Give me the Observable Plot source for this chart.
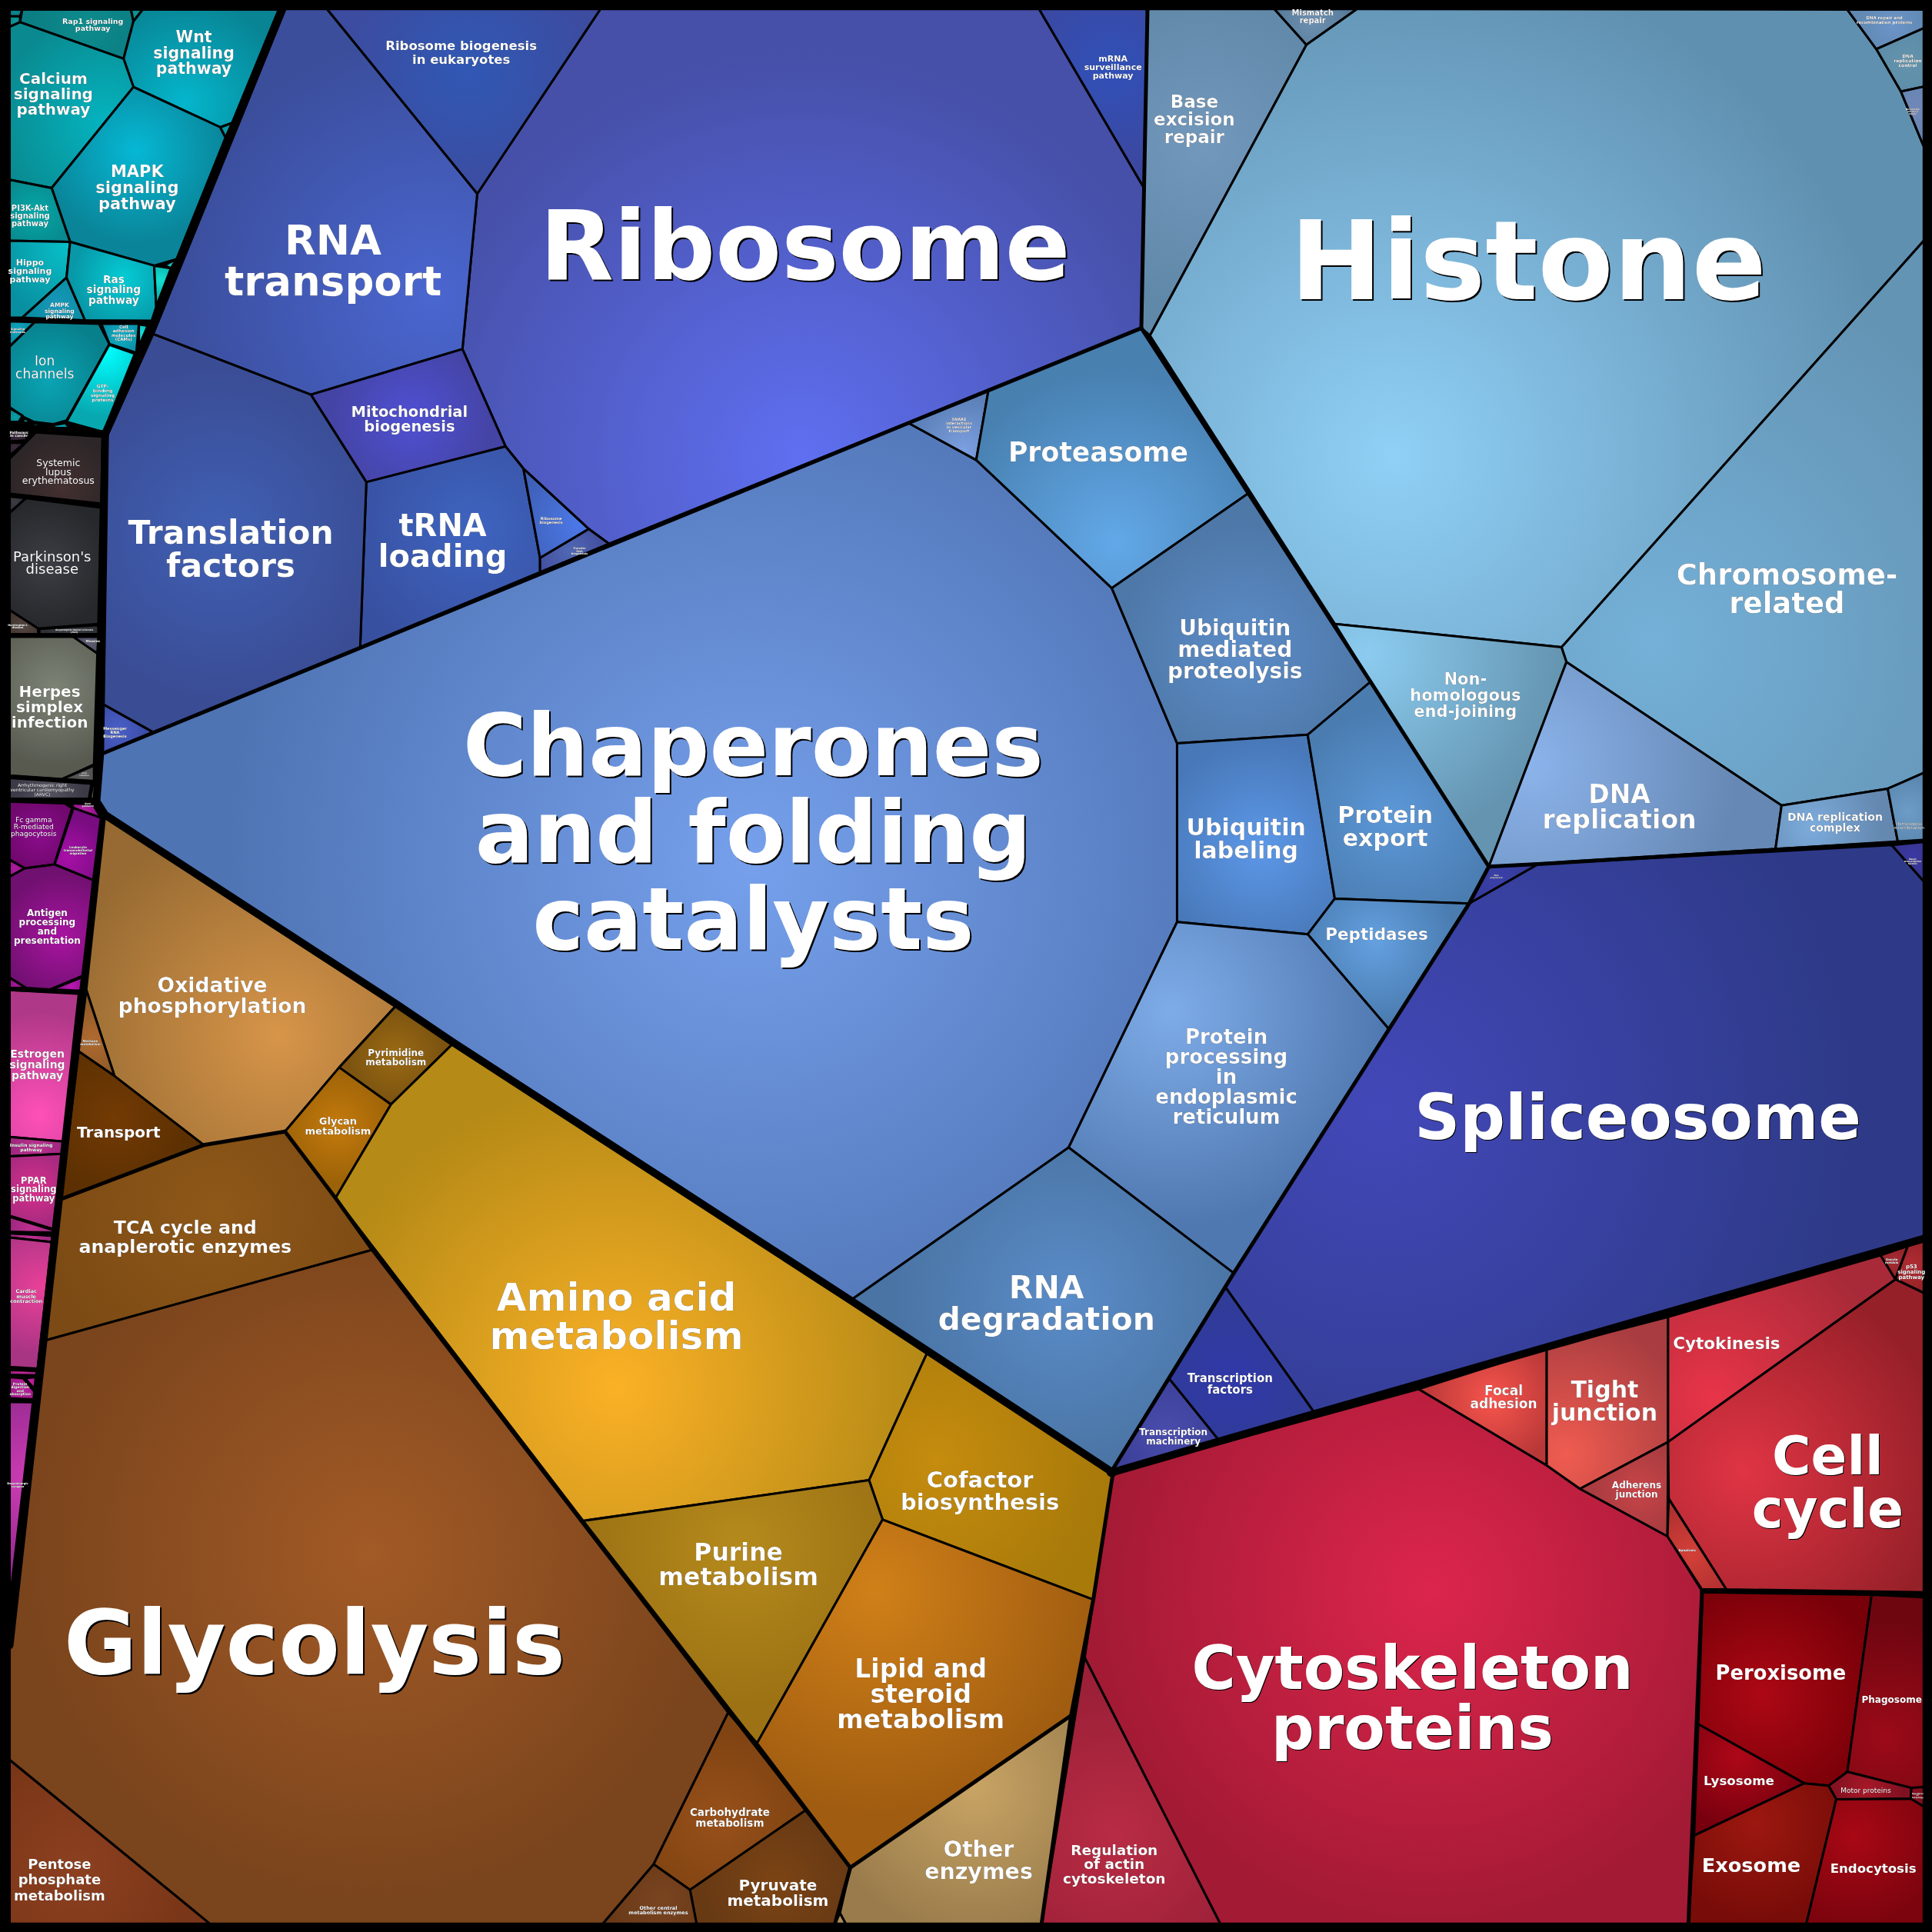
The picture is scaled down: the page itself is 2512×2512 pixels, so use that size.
<!DOCTYPE html>
<html><head><meta charset="utf-8">
<script src="https://cdn.jsdelivr.net/npm/d3@7"></script>
<script src="https://cdn.jsdelivr.net/npm/@observablehq/plot@0.6"></script>
<style>html,body{margin:0;padding:0;background:#000}svg{display:block}</style>
</head><body><div id="chart"></div>
<script>
// Every polygon is [name, vertices] in a 1568-unit square.
const translationCells = [
["Ribosome",[[487,7],[843,7],[928,152],[926,266],[494,441],[477.5,429],[424.5,380],[410,362],[375,283],[387,157]]],
["Ribosome biogenesis in eukaryotes",[[265,7],[487,7],[387,157]]],
["mRNA surveillance pathway",[[843,7],[931,7],[928,152]]],
["RNA transport",[[229,7],[265,7],[387,157],[375,283],[252,320],[122,270]]],
["Mitochondrial biogenesis",[[252,320],[375,283],[410,362],[297,391]]],
["tRNA loading",[[297,391],[410,362],[424.5,380],[438,452.5],[438,464],[292,525]]],
["Ribosome biogenesis",[[424.5,380],[477.5,429],[438,452.5]]],
["Transfer RNA biogenesis",[[438,452.5],[477.5,429],[494,441],[438,464]]],
["Translation factors",[[122,270],[252,320],[297,391],[292,525],[124,594],[81,570],[85,352]]],
["Messenger RNA Biogenesis",[[81,570],[124,594],[81,612]]],
];
const foldingCells = [
["Chaperones and folding catalysts",[[81,612],[737,343],[792,373],[902,477],[955,603],[955,748],[867,931],[690,1055],[368,846],[322,815],[85,661],[78,650]]],
["SNARE interactions in vesicular transport",[[737,343],[802,316],[792,373]]],
["Proteasome",[[802,316],[926,266],[1013,400],[902,477],[792,373]]],
["Ubiquitin mediated proteolysis",[[902,477],[1013,400],[1112,553],[1061,596],[955,603]]],
["Ubiquitin labeling",[[955,603],[1061,596],[1083,729],[1061,758],[955,748]]],
["Protein export",[[1061,596],[1112,553],[1208,703],[1192,733],[1083,729]]],
["Peptidases",[[1061,758],[1083,729],[1192,733],[1127,835]]],
["Protein processing in endoplasmic reticulum",[[955,748],[1061,758],[1127,835],[1001,1033],[867,931]]],
["RNA degradation",[[867,931],[1001,1033],[901,1195],[690,1055]]],
];
const chromatinCells = [
["Base excision repair",[[931,7],[1034,7],[1060,36],[933,272],[926,266]]],
["Mismatch repair",[[1034,7],[1101,7],[1060,36]]],
["Histone",[[1101,7],[1499,7.5],[1522.5,39.5],[1542.5,74],[1561,118.6],[1561,195],[1267,525],[1083,506],[933,272],[1060,36]]],
["DNA repair and recombination proteins",[[1499,7.5],[1561,7.5],[1561,22.5],[1522.5,39.5]]],
["DNA replication control",[[1522.5,39.5],[1561,22.5],[1561,70],[1542.5,74]]],
["Nucleotide excision repair",[[1542.5,74],[1561,70],[1561,118.6]]],
["Chromosome-related",[[1561,195],[1561,627],[1531.8,639.8],[1445.6,653.4],[1271,537],[1267,525]]],
["Non-homologous end-joining",[[1083,506],[1267,525],[1271,537],[1208,703],[1112,553]]],
["DNA replication",[[1271,537],[1445.6,653.4],[1440.7,688.7],[1208,703]]],
["DNA replication complex",[[1445.6,653.4],[1531.8,639.8],[1540,683],[1440.7,688.7]]],
["Homologous recombination",[[1531.8,639.8],[1561,627],[1561,682],[1540,683]]],
];
const transcriptionCells = [
["Spliceosome",[[1248,701],[1535,685.6],[1561,715],[1561,1005],[1067,1147],[994,1044],[1127,835],[1192,733]]],
["RNA polymerase",[[1192,733],[1208,703],[1248,701]]],
["Basal transcription factors",[[1535,685.6],[1561,683],[1561,715]]],
["Transcription factors",[[994,1044],[1067,1147],[990,1170],[948,1118]]],
["Transcription machinery",[[948,1118],[990,1170],[901,1195]]],
];
const cellularCells = [
["Cytoskeleton proteins",[[1151,1127],[1255,1189],[1282,1208],[1353,1246.5],[1381,1291],[1370,1561],[990,1561],[880,1345],[903,1195]]],
["Regulation of actin cytoskeleton",[[880,1345],[990,1561],[845,1561]]],
["Focal adhesion",[[1151,1127],[1255,1094],[1255,1189]]],
["Tight junction",[[1255,1094],[1353.5,1068.5],[1353.5,1170],[1282,1208],[1255,1189]]],
["Adherens junction",[[1282,1208],[1353.5,1170],[1353,1246.5]]],
["Cytokinesis",[[1353.5,1068.5],[1526,1018.5],[1538,1038],[1353.5,1170]]],
["Oocyte meiosis",[[1526,1018.5],[1548,1011],[1538,1038]]],
["p53 signaling pathway",[[1548,1011],[1561,1007],[1561,1049],[1538,1038]]],
["Cell cycle",[[1538,1038],[1561,1049],[1561,1292],[1400.7,1289.6],[1354,1216],[1353.5,1170]]],
["Apoptosis",[[1354,1216],[1400.7,1289.6],[1381,1289.6],[1353,1246.5]]],
["Peroxisome",[[1381.5,1292],[1518.7,1294],[1499,1437.7],[1483.7,1449],[1464,1447],[1378,1399]]],
["Phagosome",[[1518.7,1294],[1561,1296],[1561,1450.7],[1551,1450.7],[1499,1437.7]]],
["Motor proteins",[[1483.7,1449],[1499,1437.7],[1551,1450.7],[1550.5,1459.6],[1490,1460]]],
["Regulation of autophagy",[[1551,1450.7],[1561,1450],[1561,1466],[1550.5,1459.6]]],
["Lysosome",[[1378,1399],[1464,1447],[1374.6,1489.4]]],
["Exosome",[[1374.6,1489.4],[1464,1447],[1483.7,1449],[1490,1460],[1465.7,1561],[1370,1561]]],
["Endocytosis",[[1490,1460],[1550.5,1459.6],[1561,1466],[1561,1561],[1465.7,1561]]],
];
const metabolismCells = [
["Oxidative phosphorylation",[[85,661],[322,815],[275,866],[231,918],[165,929],[92.6,873],[69.7,803]]],
["Methane metabolism",[[69.7,803],[92.6,873],[63.5,853]]],
["Transport",[[63.5,853],[92.6,873],[165,929],[49,973]]],
["TCA cycle and anaplerotic enzymes",[[49,973],[165,929],[231,918],[272,972],[302,1014],[35,1088]]],
["Glycolysis",[[35,1088],[302,1014],[591,1389],[530.2,1512.7],[489,1561],[170,1561],[7.5,1428],[7.5,1330]]],
["Pentose phosphate metabolism",[[7.5,1428],[170,1561],[7.5,1561]]],
["Carbohydrate metabolism",[[591,1389],[653.3,1469],[559.7,1533.5],[530.2,1512.7]]],
["Pyruvate metabolism",[[559.7,1533.5],[653.3,1469],[689.8,1515.4],[677.3,1561],[565,1561]]],
["Other central metabolism enzymes",[[530.2,1512.7],[559.7,1533.5],[565,1561],[489,1561]]],
["Pyrimidine metabolism",[[322,815],[368,846],[317,896],[275,866]]],
["Glycan metabolism",[[231,918],[275,866],[317,896],[272,972]]],
["Amino acid metabolism",[[368,846],[690,1055],[752,1098],[705,1201],[473,1234],[272,972],[317,896]]],
["Cofactor biosynthesis",[[752,1098],[903,1195],[887,1298],[716,1233],[705,1201]]],
["Purine metabolism",[[473,1234],[705,1201],[716,1233],[613.8,1415]]],
["Lipid and steroid metabolism",[[716,1233],[887,1298],[869,1392],[689.8,1515.4],[613.8,1415]]],
["Other enzymes",[[869,1392],[845,1561],[686,1561],[681.4,1552.3],[689.8,1515.4]]],
["Xenobiotics",[[681.4,1552.3],[686,1561],[677.3,1561]]],
];
const signalingCells = [
["Rap1 signaling pathway",[[17.7,7.5],[106,7.5],[108,17],[100,47.4],[16,17.7]]],
["Jak-STAT",[[7.5,7.5],[17.7,7.5],[16,13],[7.5,13]]],
["TNF",[[7.5,13],[16,13],[16,17.7],[7.5,21.5]]],
["VEGF",[[106,7.5],[115.5,7.5],[108,17]]],
["Wnt signaling pathway",[[115.5,7.5],[225.8,7.5],[188,99.5],[178.5,103],[108,70.3],[100,47.4],[108,17]]],
["Calcium signaling pathway",[[7.5,21.5],[16,17.7],[100,47.4],[108,70.3],[41.6,152.3],[7.5,145.6]]],
["MAPK signaling pathway",[[108,70.3],[178.5,103],[182.7,111.3],[143,210],[124.8,215.3],[56.6,196],[41.6,152.3]]],
["Notch",[[182.7,111.3],[178.5,103],[188,99.5]]],
["PI3K-Akt signaling pathway",[[7.5,145.6],[41.6,152.3],[56.6,196],[7.5,195]]],
["Hippo signaling pathway",[[7.5,195],[56.6,196],[53.7,225],[17.7,257.5],[7.5,257.5]]],
["AMPK signaling pathway",[[53.7,225],[68.7,259.6],[17.7,257.5]]],
["Ras signaling pathway",[[56.6,196],[124.8,215.3],[126.5,248.6],[122.8,260],[68.7,259.6],[53.7,225]]],
["cGMP-PKG",[[124.8,215.3],[138.4,217.4],[126.5,248.6]]],
["FoxO",[[133,215],[143,210],[138.4,217.4]]],
["Signaling molecules",[[7.5,260.5],[28,261],[7.5,281]]],
["Ion channels",[[7.5,281],[28,261],[80,262.5],[88.4,278.8],[53.7,341],[42.7,344],[27,342],[18.7,338],[7.5,330]]],
["Cell adhesion molecules (CAMs)",[[82,262.5],[112.4,262.5],[110.3,286],[88.4,278.8]]],
["ECM",[[112.4,263],[119.6,264],[112.4,281]]],
["GTP-binding signaling proteins",[[88.4,279.5],[109.7,287],[84.3,350.5],[53.7,342]]],
["Cytokine",[[7.5,331],[18,337],[15,342],[7.5,342]]],
["mTOR",[[18.7,339],[26,342],[18.7,343]]],
["ErbB",[[26,343],[42.7,345],[27,345.5]]],
["Neuroactive",[[43.7,344.5],[53,343],[56,347],[43.7,347]]],
];
const diseaseCells = [
["Pathways in cancer",[[7.5,348.5],[22,349],[21,357],[7.5,358]]],
["Disease a",[[23,348.5],[28,349],[23,354]]],
["Disease b",[[7.5,359],[20,359],[7.5,369.5]]],
["Systemic lupus erythematosus",[[31,348.5],[83.2,352.6],[81.8,408.8],[7.5,400.5],[7.5,372]]],
["Alzheimer's disease",[[7.5,402.6],[20.8,404],[7.5,416]]],
["Parkinson's disease",[[20.8,404],[81.6,411.6],[79.5,506],[30.6,509.8],[7.5,494.8],[7.5,416]]],
["Huntington's disease",[[7.5,494.8],[30.6,509.8],[30.8,514.4],[7.5,514.4]]],
["Amyotrophic lateral sclerosis",[[31.6,510.2],[79.5,507],[79.5,514.4],[31.6,514.4]]],
["Herpes simplex infection",[[7.5,516.6],[59.3,516.6],[78.7,530],[76,620],[50,632],[7.5,629]]],
["Measles",[[59.3,516.6],[79.5,516.6],[78.7,530]]],
["Influenza",[[50,632],[76,621],[76,633.6]]],
["Arrhythmogenic right ventricular cardiomyopathy (ARVC)",[[7.5,631],[73.9,635.7],[71.8,648],[7.5,648]]],
["HCM",[[75.3,635.7],[77,636],[76,648],[72.8,648]]],
];
const immuneCells = [
["Fc gamma R-mediated phagocytosis",[[7.5,650.3],[52,651.7],[58.3,655.5],[43.7,701.3],[19.8,704.4],[7.5,697.5]]],
["Axon guidance",[[57.8,651.7],[75,652.4],[81.6,663.4],[59.3,655.5]]],
["Leukocyte transendothelial migration",[[59.3,655.5],[81.6,663.4],[75.3,714],[44,701.3]]],
["Bacterial invasion of epithelial cells",[[7.5,697.5],[19.8,704.4],[7.5,711.2]]],
["Antigen processing and presentation",[[7.5,711.2],[19.8,704.4],[44,701.3],[75.3,714],[66.6,791.8],[40,802.8],[20.8,801.5],[7.5,793.2]]],
["Infection",[[7.5,793.2],[20.8,801.5],[7.5,801.5]]],
["Complement and coagulation cascades",[[41.6,802.8],[66.2,792.8],[65,803.8]]],
["Estrogen signaling pathway",[[7.5,803.2],[65,806.3],[51,926.1],[7.5,922.4]]],
["Insulin signaling pathway",[[7.5,922.4],[51,926.1],[50,936.2],[7.5,938.2]]],
["PPAR signaling pathway",[[7.5,938.2],[50,936.2],[42.7,997.2],[7.5,986.3]]],
["Renin-angiotensin system",[[7.5,987.2],[42.7,998],[42.2,1000],[7.5,999.5]]],
["Vascular smooth muscle contraction",[[7.5,1000.6],[42,1002.7],[41.6,1007.8],[7.5,1004]]],
["Cardiac muscle contraction",[[7.5,1004],[41.6,1007.8],[30.2,1110.4],[7.5,1109]]],
["Gastric acid secretion",[[7.5,1111.6],[29.5,1112.4],[29,1115.9],[7.5,1115.4]]],
["Protein digestion and absorption",[[7.5,1117.3],[18.3,1118.2],[27.5,1129],[27,1135.4],[7.5,1134.5]]],
["Bile secretion",[[19.8,1118.2],[28.7,1117.3],[27.7,1126.8]]],
["Dopaminergic synapse",[[7.5,1137.4],[26.4,1137.7],[7.5,1300]]],
];

// Tints: name, centre colour, edge colour, and where the glow sits when it is off-centre.
const blueTints = [
["Ribosome","#5f6ff0","#4650a8",650,370],["Ribosome biogenesis in eukaryotes","#3058b4","#3c4ca0"],["mRNA surveillance pathway","#3050b8","#3c48a0"],
["RNA transport","#4a66d0","#3b4e9c",350,240],["Mitochondrial biogenesis","#5050d4","#4444a4"],["tRNA loading","#3e64c0","#3850a0"],
["Ribosome biogenesis","#4c78e8","#3e60b8",470,425],["Transfer RNA biogenesis","#5068b4","#4450a0"],["Translation factors","#4060b4","#3a4c94"],["Messenger RNA Biogenesis","#4a60c8","#3c4ca8"],
["Chaperones and folding catalysts","#76a0ec","#4f74b4",610,700],["SNARE interactions in vesicular transport","#7ca0e0","#5c80b8",782,365],["Proteasome","#62a8e8","#4880b0",905,440],
["Ubiquitin mediated proteolysis","#5c8cc8","#4e78a8"],["Ubiquitin labeling","#5c98e8","#4878b8"],["Protein export","#5c98d8","#4a7cb0"],["Peptidases","#64a0e0","#4a7cb0"],
["Protein processing in endoplasmic reticulum","#7eace8","#5078b0",950,820],["RNA degradation","#5a8cc8","#4a74a4"],
["Base excision repair","#7298bc","#6088a8"],["Mismatch repair","#6f90b0","#567c9c"],["Histone","#90d0f6","#6090b0",1130,370],["DNA repair and recombination proteins","#6c94c8","#6088b0"],
["DNA replication control","#6494ac","#5c8ca8"],["Nucleotide excision repair","#7088b8","#6484b0"],["Chromosome-related","#74b0d8","#6494b4",1340,520],["Non-homologous end-joining","#8cccf0","#6494b0",1110,530],
["DNA replication","#8cb4ec","#6688b4",1240,620],["DNA replication complex","#7cacdc","#6488b0",1470,670],["Homologous recombination","#6c9cc8","#5c88b0"],
["Spliceosome","#4248b8","#2e3a88",1120,900],["RNA polymerase","#3a40a8","#343a98"],["Basal transcription factors","#3c38a4","#34348c"],["Transcription factors","#3038a8","#303c98"],["Transcription machinery","#4a4cac","#3c4098"],
];
const redTints = [
["Cytoskeleton proteins","#dc254c","#a31a34",1160,1290],["Regulation of actin cytoskeleton","#b82c44","#9c2038"],["Focal adhesion","#f8544c","#b83838",1210,1135],["Tight junction","#f05c50","#a83c40",1270,1180],["Adherens junction","#c84448","#a83c40"],
["Cytokinesis","#e83448","#a82a38",1390,1134],["Oocyte meiosis","#a82a34","#902428"],["p53 signaling pathway","#b02c34","#982428"],["Cell cycle","#e03444","#962028",1415,1194],["Apoptosis","#d44038","#b03030"],
["Peroxisome","#ac0814","#780008",1430,1375],["Phagosome","#9c0a18","#6e0610",1530,1410],["Motor proteins","#a81828","#801020"],["Regulation of autophagy","#8c1020","#7c0c18"],["Lysosome","#ae0818","#78000e",1410,1425],
["Exosome","#9c1810","#780c08",1425,1480],["Endocytosis","#a80814","#7c040e",1505,1490],
];
const brownTints = [
["Oxidative phosphorylation","#d79549","#966a32",225,840],["Methane metabolism","#b06a30","#8c5a28"],["Transport","#723a04","#5c3002"],["TCA cycle and anaplerotic enzymes","#8e5818","#7c4a14"],
["Glycolysis","#a25a26","#7a441c",300,1260],["Pentose phosphate metabolism","#8c4020","#7a3618"],["Carbohydrate metabolism","#98501a","#804412"],["Pyruvate metabolism","#7c4414","#683a14"],["Other central metabolism enzymes","#7a4420","#6a3a18"],
["Pyrimidine metabolism","#9a6a14","#7c5410"],["Glycan metabolism","#c47a0c","#9c6208"],["Amino acid metabolism","#fbb126","#b58a16",500,1125],["Cofactor biosynthesis","#c58c0e","#a87a0a",760,1185],
["Purine metabolism","#b58a1c","#9c7214",600,1255],["Lipid and steroid metabolism","#d08018","#a05c10",710,1290],["Other enzymes","#c8a464","#9a7c4c",790,1450],["Xenobiotics","#b09060","#a08050"],
];
const tealTints = [
["Rap1 signaling pathway","#0e8c8c","#0b7e84"],["Jak-STAT","#0e8890","#0a7880"],["TNF","#0e9898","#0a8088"],["VEGF","#0e9898","#0a8088"],["Wnt signaling pathway","#05b6cc","#088494",150,83],
["Calcium signaling pathway","#04b4c0","#0a8a90",85,100],["MAPK signaling pathway","#06b8d4","#0a8498",110,122],["Notch","#0aa0a8","#088088"],["PI3K-Akt signaling pathway","#05a8a8","#088a8e"],
["Hippo signaling pathway","#08c0c8","#0890a0",55,200],["AMPK signaling pathway","#1898bc","#0a8ca0"],["Ras signaling pathway","#04ccd4","#0898a8",100,225],["cGMP-PKG","#14e0d0","#08a8a8"],["FoxO","#14c8c8","#08a0a0"],
["Signaling molecules","#10a8c0","#0888a0"],["Ion channels","#0aa4b4","#08808c"],["Cell adhesion molecules (CAMs)","#10b0c4","#0a90a8"],["ECM","#14e0d8","#08a8b0"],["GTP-binding signaling proteins","#00ffff","#08a8b0",85,285],
["Cytokine","#0aa0a8","#08848c"],["mTOR","#0aa0a8","#08848c"],["ErbB","#0aa0b0","#08848c"],["Neuroactive","#0aa0b0","#08848c"],
];
const darkTints = [
["Pathways in cancer","#3a2a3a","#2c2030"],["Disease a","#3a2a3a","#2c2030"],["Disease b","#3a2a3a","#2c2030"],["Systemic lupus erythematosus","#443030","#2c2628",50,395],["Alzheimer's disease","#3c3c44","#303038"],
["Parkinson's disease","#3c3e44","#26282c"],["Huntington's disease","#544640","#40342e"],["Amyotrophic lateral sclerosis","#3c3e44","#2e3034"],["Herpes simplex infection","#7c8476","#585a50",44,558],["Measles","#5c5c70","#4c4c60"],
["Influenza","#5c5c5c","#484848"],["Arrhythmogenic right ventricular cardiomyopathy (ARVC)","#55535f","#3c3a46"],["HCM","#5c5c50","#484838"],
];
const pinkTints = [
["Fc gamma R-mediated phagocytosis","#8c0c8c","#70086e"],["Axon guidance","#b020a0","#901088"],["Leukocyte transendothelial migration","#a810a8","#780c80",55,695],["Bacterial invasion of epithelial cells","#b01ca0","#901488"],
["Antigen processing and presentation","#a814a0","#701070",50,760],["Infection","#a81898","#801080"],["Complement and coagulation cascades","#b818b0","#8c1088"],["Estrogen signaling pathway","#ff50b8","#b03888",32,905],
["Insulin signaling pathway","#c03090","#a02880"],["PPAR signaling pathway","#d8308c","#a82a80"],["Renin-angiotensin system","#c03090","#a02880"],["Vascular smooth muscle contraction","#c03090","#a02880"],["Cardiac muscle contraction","#e84098","#a83484",32,1045],
["Gastric acid secretion","#c02898","#a02080"],["Protein digestion and absorption","#c020a0","#a01888"],["Bile secretion","#c020a0","#a01888"],["Dopaminergic synapse","#cc3cb4","#90288c",22,1200],
];

// Labels: text, x, y, px size, regular-weight flag, line height.
const bigLabels = [
["Ribosome",653,201,125,0,1],["Histone",1240,214,143],["Chaperones\nand folding\ncatalysts",611,677,113],["Glycolysis",255,1335,116],["Spliceosome",1329,908,82],
["Cytoskeleton\nproteins",1146,1379,78],["Cell\ncycle",1483,1204,69],["RNA\ntransport",270,212,53],["Amino acid\nmetabolism",500,1069,50],
["Translation\nfactors",187,446,42.5],["tRNA\nloading",359,439,40],["RNA\ndegradation",849,1058,41],["Chromosome-\nrelated",1450,478,37],["Proteasome",891,367,34.7],
["Lipid and\nsteroid\nmetabolism",747,1375,33],["DNA\nreplication",1314,655,33],["Purine\nmetabolism",599,1270,31.5],["Protein\nexport",1124,671,30],["Ubiquitin\nlabeling",1011,681,30],
["Tight\njunction",1302,1137,30],["Cofactor\nbiosynthesis",795,1210,29],["Other\nenzymes",794,1510,28.5],["Ubiquitin\nmediated\nproteolysis",1002,527,28],
["Oxidative\nphosphorylation",172,808,26.6],["Protein\nprocessing\nin\nendoplasmic\nreticulum",995,874,26],["TCA cycle and\nanaplerotic enzymes",150,1004,23.7,0,1.05],["Peroxisome",1445,1358,25.8],["Exosome",1421,1514,25.6],
];
const midLabels = [
["Base\nexcision\nrepair",969,97,23],["Cytokinesis",1401,1090,21.5],["Peptidases",1117,758,21.5],["Non-\nhomologous\nend-joining",1189,564,21],["Pentose\nphosphate\nmetabolism",48,1525,18,0,1.14],["Transport",96,919,20],
["Pyruvate\nmetabolism",631,1536,20],["Mitochondrial\nbiogenesis",332,340,19.5],["Regulation\nof actin\ncytoskeleton",904,1513,18.5],["Ribosome biogenesis\nin eukaryotes",374,42,16.5,0,1.1],["Focal\nadhesion",1220,1134,17],
["Lysosome",1411,1445,16.7],["Endocytosis",1520,1516,16.6],["Transcription\nfactors",998,1123,15],["DNA replication\ncomplex",1489,667,14],["Carbohydrate\nmetabolism",592,1475,13.5],["Glycan\nmetabolism",274,914,13],
["Pyrimidine\nmetabolism",321,858,12],["Adherens\njunction",1328,1209,12],["Transcription\nmachinery",952,1166,12],["Phagosome",1535,1379,12],["Motor proteins",1514,1453,9,1],
["mRNA\nsurveillance\npathway",903,54,11],["Mismatch\nrepair",1065,13,10],
];
const stripLabels = [
["Wnt\nsignaling\npathway",157,43,20.5],["Calcium\nsignaling\npathway",43,76,20],["MAPK\nsignaling\npathway",111,152,21],["Rap1 signaling\npathway",75,20,9.5],["PI3K-Akt\nsignaling\npathway",24,175,10],
["Hippo\nsignaling\npathway",24,220,11],["AMPK\nsignaling\npathway",48,252,7.5],["Ras\nsignaling\npathway",92,235,13.7],["Ion\nchannels",36,298,17,1],["GTP-\nbinding\nsignaling\nproteins",83,319,6],["Cell\nadhesion\nmolecules\n(CAMs)",100,270,5.5],
["Signaling\nmolecules",14,268,3.5],["Systemic\nlupus\nerythematosus",47,383,12.5,1,0.9],["Parkinson's\ndisease",42,457,18,1,0.9],["Herpes\nsimplex\ninfection",40,574,20],["Pathways\nin cancer",15,352,4.5],
["Measles",75,520,4],["Huntington's\ndisease",14,508,3.5],["Amyotrophic lateral sclerosis\n(ALS)",60,512,3],["Arrhythmogenic right\nventricular cardiomyopathy\n(ARVC)",34,641,6,1],["Viral\ninfection",68,628,2.5],
["Fc gamma\nR-mediated\nphagocytosis",27,671,9,1],["Leukocyte\ntransendothelial\nmigration",63,690,4],["Axon\nguidance",71,653,3],["Antigen\nprocessing\nand\npresentation",38,752,12],["Estrogen\nsignaling\npathway",30,864,14],
["Insulin signaling\npathway",25,931,6],["PPAR\nsignaling\npathway",27,965,11.5],["Cardiac\nmuscle\ncontraction",21,1052,6.5],["Protein\ndigestion\nand\nabsorption",16,1127,4.5],["Dopaminergic\nsynapse",14,1205,3.5],
["p53\nsignaling\npathway",1551,1032,7],["Oocyte\nmeiosis",1535,1023,4],["Apoptosis",1369,1258,4],["Regulation\nof\nautophagy",1556,1457,2.5],
["DNA repair and\nrecombination proteins",1529,16,5.5],["DNA\nreplication\ncontrol",1548,49,6],["Nucleotide\nexcision\nrepair",1552,90,3],["Homologous\nrecombination",1549,670,5.5,1],["Basal\ntranscription\nfactors",1552,699,3],
["RNA\npolymerase",1214,711,2.5],["Messenger\nRNA\nBiogenesis",93,594,5],["Ribosome\nbiogenesis",447,422,5],["Transfer\nRNA\nbiogenesis",470,447,3.5],["SNARE\ninteractions\nin vesicular\ntransport",778,345,5],
["Methane\nmetabolism",73,846,4],["Other central\nmetabolism enzymes",534,1550,6.5],
];

const cells = [...translationCells, ...foldingCells, ...chromatinCells, ...transcriptionCells, ...cellularCells, ...metabolismCells, ...signalingCells, ...diseaseCells, ...immuneCells];
const tints = new Map([...blueTints, ...redTints, ...brownTints, ...tealTints, ...darkTints, ...pinkTints].map(t => [t[0], t]));
const labels = [...bigLabels, ...midLabels, ...stripLabels];

// Thick seams between the top-level and second-level groups.
const heavySeams = [
[[229,7],[122,270],[85,352]],
[[85,352],[81,612],[78,650],[85,661]],
[[85,661],[322,815],[368,846],[690,1055],[903,1195]],
[[66,805],[35,1088],[7.5,1335]],
[[901,1195],[1067,1147],[1561,1005]],
[[7.5,347],[85,352]],
];
const mediumSeams = [
[[81,612],[737,343],[926,266]],
[[931,7],[926,266]],
[[926,266],[1112,553],[1208,703]],
[[1208,703],[1192,733],[1127,835],[1001,1033],[901,1195]],
[[1208,703],[1248,701],[1561,682]],
[[903,1195],[887,1298],[869,1392],[845,1561]],
[[1381,1291],[1561,1293]],[[1381,1291],[1370,1561]],
[[7.5,259.5],[122.8,261.5]],
[[7.5,401],[81.8,409]],[[7.5,515.5],[80,515.5]],[[7.5,630],[76,634.5]],[[7.5,649.5],[78,650]],
[[7.5,802.5],[66,805]],[[7.5,1136],[27,1136.5]],[[7.5,1110.5],[30,1111.5]],[[7.5,1000],[42,1001.5]],
[[231,918],[165,929],[49,973]],[[231,918],[272,972],[302,1014],[591,1389],[613.8,1415],[689.8,1515.4],[677.3,1561]],
[[689.8,1515.4],[869,1392]],
[[85,352],[84.3,350.5],[109.7,287]],
];

const xy = {x: d => d[0], y: d => d[1]};
const polygon = ([name, pts], i) => Plot.line(pts, {...xy, curve: "linear-closed", fill: `url(#glow${i})`, stroke: "#000", strokeWidth: 3, strokeLinejoin: "round"});
const seam = w => pts => Plot.line(pts, {...xy, stroke: "#000", strokeWidth: w, strokeLinejoin: "round", strokeLinecap: "round"});
const label = ([text, x, y, size, regular, lh]) => {
  const off = Math.max(0.5, size * 0.018).toFixed(2);
  return Plot.text([0], {x: () => x, y: () => y, text: () => text, fontSize: size, fontWeight: regular ? "normal" : "bold", fontFamily: "DejaVu Sans", textAnchor: "middle", lineHeight: lh || 1, lineAnchor: "middle", fill: "#fff", imageFilter: `drop-shadow(${off}px ${off}px 0 #000)`});
};

const chart = Plot.plot({
  width: 2512, height: 2512, margin: 0,
  style: {background: "#000"},
  x: {domain: [0, 1568], range: [0, 2512], axis: null},
  y: {domain: [0, 1568], range: [0, 2512], axis: null},
  marks: [
    ...cells.map(polygon),
    ...mediumSeams.map(seam(5)),
    ...heavySeams.map(seam(10)),
    ...labels.map(label)
  ]
});

// Radial glow of each polygon, placed through the chart's own scales.
const sx = chart.scale("x"), sy = chart.scale("y");
const defs = d3.select(chart).insert("defs", ":first-child");
cells.forEach(([name, pts], i) => {
  const t = tints.get(name) || [name, "#888", "#666"];
  const cx = t[3] ?? d3.mean(pts, p => p[0]), cy = t[4] ?? d3.mean(pts, p => p[1]);
  const r = d3.max(pts, p => Math.hypot(p[0] - cx, p[1] - cy));
  const g = defs.append("radialGradient").attr("id", `glow${i}`).attr("gradientUnits", "userSpaceOnUse")
    .attr("cx", sx.apply(cx)).attr("cy", sy.apply(cy)).attr("r", sx.apply(r) - sx.apply(0));
  g.append("stop").attr("offset", 0).attr("stop-color", t[1]);
  g.append("stop").attr("offset", 0.8).attr("stop-color", t[2]);
  g.append("stop").attr("offset", 1).attr("stop-color", t[2]);
});
document.getElementById("chart").append(chart);
</script></body></html>
